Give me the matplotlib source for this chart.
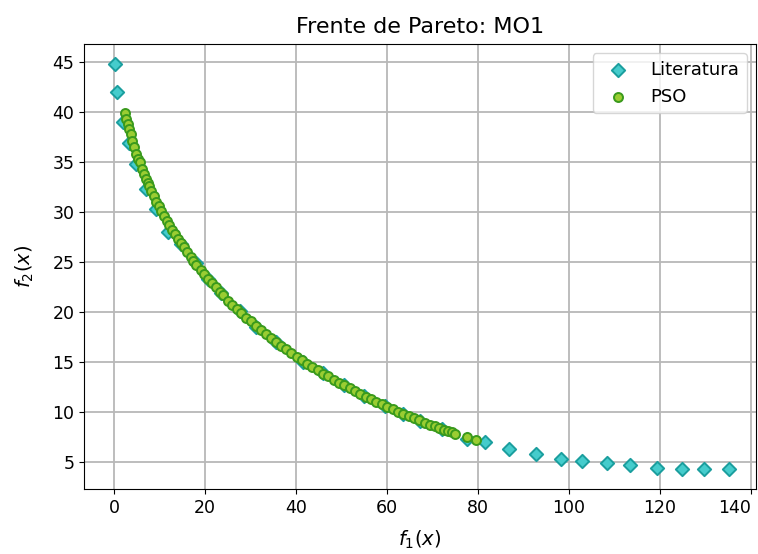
import numpy as np
import matplotlib.pyplot as plt

# Frente de Pareto
lit_f1 = [0.15, 0.6, 2.0, 3.2, 4.7, 7.0, 9.2, 11.9, 14.7, 17.9, 20.6, 23.6,
          27.6, 31.3, 35.5, 41.5, 46.0, 50.5, 55.0, 59.5, 63.5, 67.2, 72.0,
          77.5, 81.5, 86.8, 92.7, 98.2, 103.0, 108.3, 113.4, 119.4, 124.9,
          129.7, 135.2]
lit_f2 = [44.8, 42.0, 39.05, 36.95, 34.8, 32.3, 30.3, 28.0, 26.8, 24.9, 23.3,
          21.9, 20.1, 18.55, 17.0, 15.0, 13.85, 12.7, 11.55, 10.55, 9.75, 9.1,
          8.25, 7.3, 7.0, 6.27, 5.77, 5.3, 5.07, 4.84, 4.64, 4.34, 4.24, 4.24,
          4.24]

pso_f1 = [2.4, 2.7, 3.0, 3.3, 3.6, 4.0, 4.4, 4.9, 5.3, 5.6, 6.1, 6.6, 7.0, 7.4,
          7.7, 8.2, 8.7, 9.3, 9.8, 10.4, 11.0, 11.6, 12.1, 12.8, 13.4, 14.0,
          14.6, 15.3, 16.0, 16.8, 17.4, 18.1, 19.0, 19.8, 20.7, 21.5, 22.3,
          23.2, 24.0, 25.1, 26.0, 27.0, 28.0, 29.1, 30.0, 31.2, 32.3, 33.4,
          34.4, 35.6, 36.7, 37.8, 38.9, 40.2, 41.3, 42.5, 43.6, 44.8, 46.0,
          47.1, 48.3, 49.5, 50.6, 51.8, 53.0, 54.1, 55.3, 56.4, 57.6, 58.8,
          60.0, 61.3, 62.5, 63.6, 64.8, 66.0, 67.1, 68.3, 69.4, 70.5, 71.5,
          72.6, 73.4, 74.2, 75.0, 77.6, 79.5]
pso_f2 = [39.95, 39.36, 38.8, 38.28, 37.78, 37.16, 36.57, 35.87, 35.35, 34.97,
          34.36, 33.78, 33.34, 32.91, 32.6, 32.1, 31.62, 31.06, 30.61, 30.1,
          29.6, 29.12, 28.73, 28.2, 27.77, 27.34, 26.93, 26.47, 26.02, 25.52,
          25.15, 24.74, 24.23, 23.79, 23.3, 22.89, 22.48, 22.04, 21.66, 21.15,
          20.74, 20.31, 19.88, 19.43, 19.07, 18.6, 18.19, 17.78, 17.43, 17.01,
          16.64, 16.28, 15.92, 15.52, 15.18, 14.83, 14.51, 14.17, 13.84, 13.55,
          13.23, 12.93, 12.65, 12.36, 12.07, 11.82, 11.54, 11.3, 11.03, 10.78,
          10.53, 10.26, 10.02, 9.81, 9.58, 9.35, 9.15, 8.94, 8.74, 8.55, 8.38,
          8.2, 8.07, 7.95, 7.83, 7.45, 7.17]

x_ticks = np.arange(0, 141, 20)
y_ticks = np.arange(5, 46, 5)

plt.rcParams['font.size'] = 12.5

fig = plt.figure(figsize=(7.58, 5.54), dpi=100)
ax = fig.add_axes([0.111, 0.1165, 0.886, 0.8035])

ax.scatter(lit_f1, lit_f2, marker='D', s=46, facecolor='#45cccc',
           edgecolor='#1a9e9e', linewidths=1.4, label='Literatura', zorder=3)
ax.scatter(pso_f1, pso_f2, marker='o', s=42, facecolor='#9acd32',
           edgecolor='#3a9a1c', linewidths=1.4, label='PSO', zorder=4)

ax.set_xlim(-6.6, 141.1)
ax.set_ylim(2.24, 46.8)
ax.set_xticks(x_ticks)
ax.set_yticks(y_ticks)
# o ultimo rotulo do eixo x fica encostado na borda
ax.get_xticklabels()[-1].set_horizontalalignment('right')
ax.grid(True, color='#b8b8b8', linewidth=1.3)
ax.set_axisbelow(True)

ax.set_title('Frente de Pareto: MO1', fontsize=16, pad=8)
ax.set_xlabel(r'$f_1(x)$', fontsize=14, labelpad=8)
ax.set_ylabel(r'$f_2(x)$', fontsize=14, labelpad=12)
ax.legend(loc='upper right', fontsize=13)

fig.savefig('out.png')
